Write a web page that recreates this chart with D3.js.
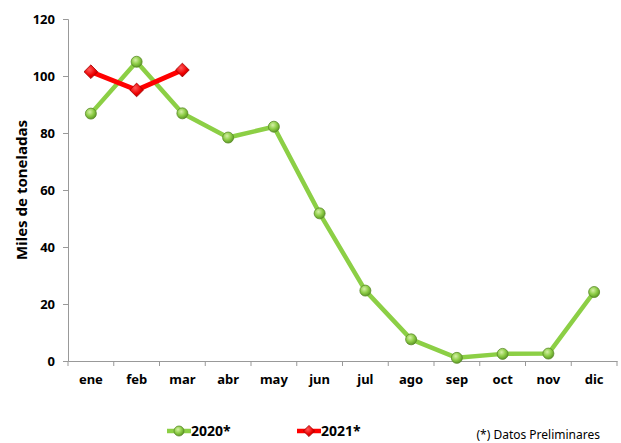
<!DOCTYPE html>
<html>
<head>
<meta charset="utf-8">
<script src="https://cdn.jsdelivr.net/npm/d3@7"></script>
<style>
  body { margin: 0; background: #fff; }
  text { font-family: "Noto Sans", "Open Sans", sans-serif; }
</style>
</head>
<body>
<svg></svg>
<script>
var months = ["ene", "feb", "mar", "abr", "may", "jun", "jul", "ago", "sep", "oct", "nov", "dic"];
var values2020 = [86.8, 105.0, 86.9, 78.4, 82.2, 51.8, 24.7, 7.6, 1.1, 2.5, 2.6, 24.2];
var values2021 = [101.5, 95.1, 102.1];
var yTicks = [0, 20, 40, 60, 80, 100, 120];

var width = 621, height = 443;
var plotLeft = 68, plotRight = 617, plotTop = 19, plotBottom = 361;

var svg = d3.select("svg")
    .attr("width", width)
    .attr("height", height);

var defs = svg.append("defs");
var grad = defs.append("radialGradient")
    .attr("id", "gball").attr("cx", "40%").attr("cy", "35%").attr("r", "65%");
grad.append("stop").attr("offset", "0%").attr("stop-color", "#d6f0a8");
grad.append("stop").attr("offset", "55%").attr("stop-color", "#8fce48");
grad.append("stop").attr("offset", "100%").attr("stop-color", "#5e9a26");
var rgrad = defs.append("radialGradient")
    .attr("id", "rball").attr("cx", "40%").attr("cy", "35%").attr("r", "70%");
rgrad.append("stop").attr("offset", "0%").attr("stop-color", "#ff5a5a");
rgrad.append("stop").attr("offset", "60%").attr("stop-color", "#ee0000");
rgrad.append("stop").attr("offset", "100%").attr("stop-color", "#b00000");

var x = d3.scaleBand().domain(months).range([plotLeft, plotRight]);
var y = d3.scaleLinear().domain([0, 120]).range([plotBottom, plotTop]);

// y axis
var yAxis = svg.append("g")
    .attr("transform", "translate(" + plotLeft + ",0)")
    .call(d3.axisLeft(y).tickValues(yTicks).tickSize(5).tickPadding(8));
yAxis.select(".domain").attr("stroke", "#999");
yAxis.selectAll(".tick line").attr("stroke", "#999");
yAxis.selectAll(".tick text")
    .attr("fill", "#000")
    .style("font-size", "13px")
    .style("font-weight", "bold");

// x axis
var xAxis = svg.append("g")
    .attr("transform", "translate(0," + plotBottom + ")")
    .call(d3.axisBottom(x).tickSize(0).tickPadding(14));
xAxis.select(".domain").attr("stroke", "#999");
xAxis.selectAll(".tick text")
    .attr("fill", "#000")
    .style("font-size", "13px")
    .style("font-weight", "bold");
// tick marks on band edges
xAxis.selectAll("line.edge")
    .data(months.concat(["end"]))
    .enter().append("line")
    .attr("class", "edge")
    .attr("x1", function(d, i) { return plotLeft + i * x.step(); })
    .attr("x2", function(d, i) { return plotLeft + i * x.step(); })
    .attr("y1", 0).attr("y2", 5)
    .attr("stroke", "#999");

svg.append("text")
    .attr("transform", "translate(27," + ((plotTop + plotBottom) / 2) + ") rotate(-90)")
    .attr("text-anchor", "middle")
    .style("font-size", "15px")
    .style("font-weight", "bold")
    .text("Miles de toneladas");

var cx = function(d, i) { return x(months[i]) + x.bandwidth() / 2; };

var line = d3.line()
    .x(function(d, i) { return cx(d, i); })
    .y(function(d) { return y(d); });

// 2020 series
svg.append("path")
    .datum(values2020)
    .attr("fill", "none")
    .attr("stroke", "#8ccf45")
    .attr("stroke-width", 4.5)
    .attr("stroke-linejoin", "round")
    .attr("d", line);

svg.selectAll("circle.s2020")
    .data(values2020)
    .enter().append("circle")
    .attr("class", "s2020")
    .attr("cx", cx)
    .attr("cy", function(d) { return y(d); })
    .attr("r", 5.5)
    .attr("fill", "url(#gball)")
    .attr("stroke", "#5a8a2a")
    .attr("stroke-width", 0.8);

// 2021 series
svg.append("path")
    .datum(values2021)
    .attr("fill", "none")
    .attr("stroke", "#ff0000")
    .attr("stroke-width", 5)
    .attr("stroke-linejoin", "round")
    .attr("d", line);

var diamond = d3.symbol().type(d3.symbolDiamond2).size(120);
svg.selectAll("path.s2021")
    .data(values2021)
    .enter().append("path")
    .attr("class", "s2021")
    .attr("d", diamond)
    .attr("transform", function(d, i) { return "translate(" + cx(d, i) + "," + y(d) + ")"; })
    .attr("fill", "url(#rball)")
    .attr("stroke", "#a00000")
    .attr("stroke-width", 0.8);

// legend
var legend = [
  { name: "2020*", color: "#8ccf45", x0: 167 },
  { name: "2021*", color: "#ff0000", x0: 297 }
];
var ly = 431;
legend.forEach(function(l, k) {
  var g = svg.append("g");
  g.append("line")
      .attr("x1", l.x0).attr("x2", l.x0 + 24)
      .attr("y1", ly).attr("y2", ly)
      .attr("stroke", l.color).attr("stroke-width", 4.5);
  if (k === 0) {
    g.append("circle").attr("cx", l.x0 + 12).attr("cy", ly).attr("r", 5)
        .attr("fill", "url(#gball)").attr("stroke", "#5a8a2a").attr("stroke-width", 0.8);
  } else {
    g.append("path").attr("d", d3.symbol().type(d3.symbolDiamond2).size(80))
        .attr("transform", "translate(" + (l.x0 + 12) + "," + ly + ")")
        .attr("fill", "url(#rball)").attr("stroke", "#a00000").attr("stroke-width", 0.8);
  }
  g.append("text")
      .attr("x", l.x0 + 24).attr("y", ly + 5)
      .style("font-size", "14px")
      .style("font-weight", "bold")
      .text(l.name);
});

svg.append("text")
    .attr("x", 600).attr("y", 439)
    .attr("text-anchor", "end")
    .style("font-size", "12px")
    .text("(*) Datos Preliminares");
</script>
</body>
</html>
